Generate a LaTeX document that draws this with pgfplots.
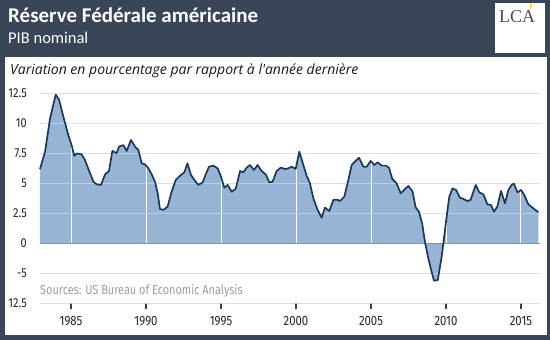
\documentclass[border=0pt]{standalone}
\usepackage{fontspec}
\usepackage{pgfplots}
\pgfplotsset{compat=1.18}
\setmainfont{Fira Sans}
\newfontfamily\titlefont{Carlito}
\newfontfamily\condfont[FakeStretch=0.84]{Fira Sans}
\newfontfamily\itfont{Open Sans}
\newfontfamily\logofont{Liberation Serif}
\definecolor{slate}{HTML}{394657}
\definecolor{areablue}{HTML}{98B4D4}
\definecolor{linenavy}{HTML}{1B3A59}
\definecolor{zeroline}{HTML}{8193A8}
\definecolor{gridgray}{HTML}{D4D4D4}
\pgfplotstableread{
year val
1982.933 6.2
1983.27 7.65
1983.6 10.4
1983.98 12.4
1984.2 12.0
1984.49 10.57
1984.82 9.04
1985.04 8.2
1985.22 7.3
1985.38 7.5
1985.71 7.43
1985.93 6.96
1986.27 5.85
1986.49 5.15
1986.71 4.93
1987.0 4.88
1987.27 5.76
1987.53 6.04
1987.76 7.71
1988.04 7.52
1988.2 8.07
1988.49 8.2
1988.71 7.71
1989.0 8.63
1989.27 8.07
1989.49 7.79
1989.71 6.68
1989.93 6.6
1990.16 6.26
1990.38 5.76
1990.6 5.15
1990.78 4.18
1990.93 2.88
1991.16 2.8
1991.44 3.07
1991.71 4.32
1991.98 5.29
1992.27 5.65
1992.56 5.93
1992.76 6.68
1993.0 5.71
1993.27 5.21
1993.49 4.88
1993.78 5.1
1993.98 5.76
1994.2 6.4
1994.49 6.49
1994.78 6.26
1995.0 5.57
1995.22 4.65
1995.44 4.88
1995.71 4.32
1995.98 4.55
1996.27 6.04
1996.49 5.93
1996.71 6.32
1996.93 6.54
1997.2 6.13
1997.44 6.54
1997.71 6.04
1997.98 5.76
1998.22 5.1
1998.44 5.15
1998.71 6.04
1998.98 6.32
1999.27 6.21
1999.49 6.26
1999.71 6.4
1999.98 6.21
2000.22 7.65
2000.49 6.54
2000.71 5.65
2000.93 5.01
2001.16 3.76
2001.44 2.8
2001.71 2.15
2001.93 2.99
2002.22 2.71
2002.49 3.63
2002.75 3.65
2002.93 3.54
2003.22 3.9
2003.49 5.29
2003.71 6.54
2003.98 6.88
2004.2 7.15
2004.49 6.4
2004.71 6.4
2004.98 6.88
2005.22 6.54
2005.44 6.76
2005.71 6.49
2005.98 6.49
2006.2 6.32
2006.42 5.38
2006.71 5.01
2006.98 4.18
2007.27 4.54
2007.49 4.79
2007.76 4.37
2007.98 3.0
2008.2 2.65
2008.42 1.6
2008.6 0.1
2008.82 -1.24
2009.04 -2.35
2009.2 -3.1
2009.45 -3.05
2009.71 -1.1
2009.93 1.1
2010.1 2.8
2010.22 3.9
2010.44 4.6
2010.67 4.46
2010.93 3.82
2011.16 3.71
2011.42 3.54
2011.64 3.63
2011.98 4.88
2012.22 4.26
2012.49 4.1
2012.76 3.26
2013.0 3.21
2013.2 2.65
2013.42 3.07
2013.67 4.38
2013.93 3.35
2014.16 4.46
2014.38 4.88
2014.53 4.99
2014.76 4.26
2015.0 4.46
2015.22 4.04
2015.49 3.26
2015.82 2.93
2016.16 2.6
}\gdpdata
\begin{document}
\begin{tikzpicture}[x=1pt,y=1pt]
\fill[slate] (0,0) rectangle (550,340);
\fill[white] (4.5,5) rectangle (547,283);
\fill[white] (495,287) rectangle (545,337);
\node[anchor=base west, inner sep=0, text=black!70, font=\logofont\fontsize{18}{20}\selectfont] at (499,317) {LCA};
\draw[yellow!85!orange, line width=1.6pt] (531,337) -- (530.5,331.5);
\node[anchor=base west, inner sep=0, text=white, font=\titlefont\bfseries\fontsize{21}{24}\selectfont] at (8,317) {Réserve Fédérale américaine};
\node[anchor=base west, inner sep=0, text=white, font=\titlefont\fontsize{16.5}{19}\selectfont] at (8,296) {PIB nominal};
\node[anchor=base west, inner sep=0, text=black!90, font=\itfont\itshape\fontsize{14}{16}\selectfont] at (10,265) {Variation en pourcentage par rapport à l'année dernière};
\begin{axis}[at={(40pt,36.5pt)}, anchor=south west, scale only axis,
  width=500.05pt, height=210pt, xmin=1982.933, xmax=2016.27, ymin=-5, ymax=12.5,
  axis lines*=left, axis line style={draw=none},
  xtick={1985,1990,1995,2000,2005,2010,2015},
  xticklabels={1985,1990,1995,2000,2005,2010,2015},
  ytick={-5,-2.5,0,2.5,5,7.5,10,12.5},
  yticklabels={12.5,-5,0,2.5,5,7.5,10,12.5},
  ytick style={draw=none},
  xtick style={draw=black!75, line width=1.2pt},
  tick align=outside, major tick length=6pt,
  tick label style={font=\condfont\fontsize{13}{15}\selectfont, text=black!85},
  xticklabel style={font=\condfont\fontsize{13.5}{15}\selectfont},
  yticklabel style={anchor=east, inner sep=0pt, xshift=-7pt},
  xticklabel style={anchor=north, inner sep=0pt, yshift=-7pt},
  clip=false]
\addplot[fill=areablue, draw=none, forget plot] table[x=year,y=val] {\gdpdata} -- (axis cs:2016.16,0) -- (axis cs:1982.933,0) -- cycle;
\pgfplotsinvokeforeach{1985,1990,1995,2000,2005,2010,2015}{
  \addplot[white, line width=1pt, forget plot] coordinates {(#1,0) (#1,12.5)};
}
\pgfplotsinvokeforeach{-5,-2.5,2.5,5,7.5,10,12.5}{
  \addplot[gridgray, opacity=0.75, line width=1pt, forget plot] coordinates {(1982.933,#1) (2016.27,#1)};
}
\addplot[zeroline, line width=1.2pt, forget plot] coordinates {(1982.933,0) (2016.27,0)};
\addplot[linenavy, line width=1.7pt, line join=round, forget plot] table[x=year,y=val] {\gdpdata};
\end{axis}
\node[anchor=base west, inner sep=0, text=black!38, font=\condfont\fontsize{13}{15}\selectfont] at (40,45) {Sources: US Bureau of Economic Analysis};
\end{tikzpicture}
\end{document}
